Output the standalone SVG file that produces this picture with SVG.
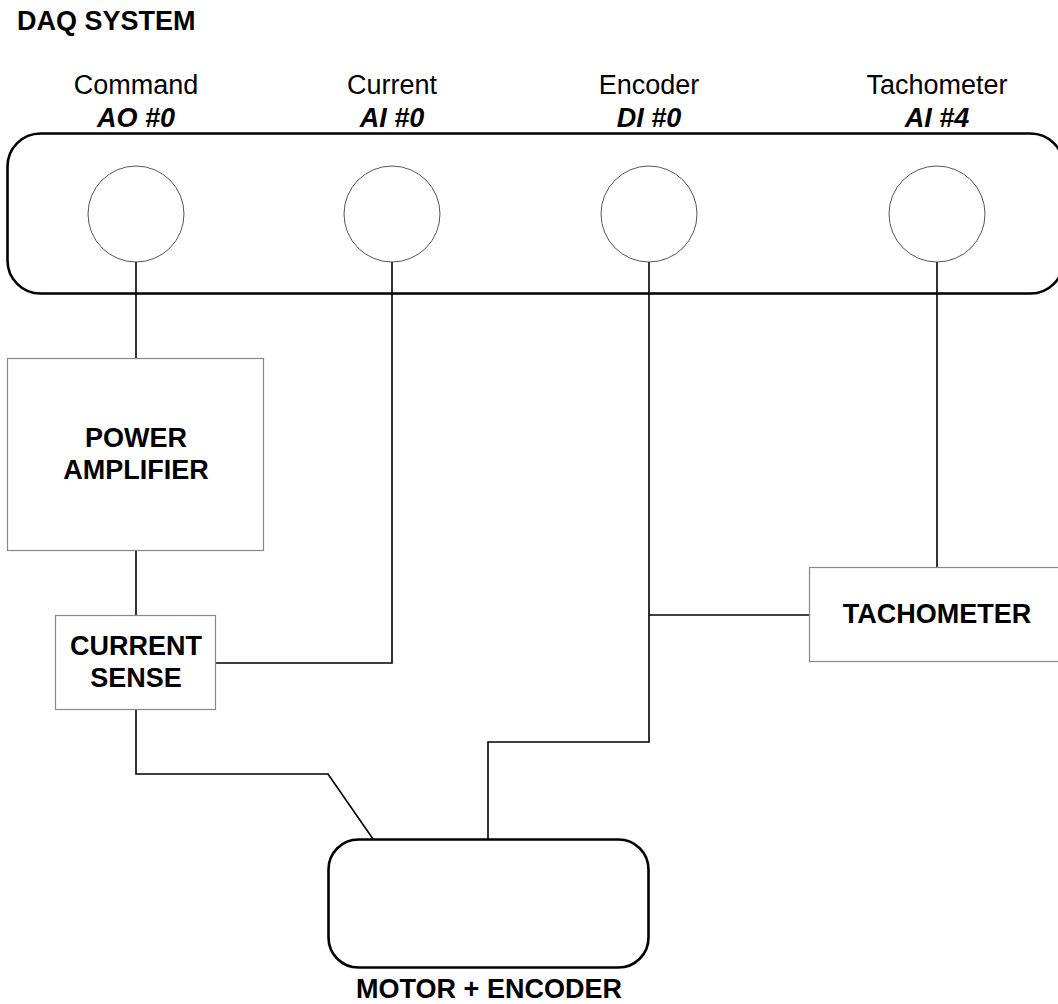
<svg xmlns="http://www.w3.org/2000/svg" width="1058" height="1004" viewBox="0 0 1058 1004">
<style>
text{font-family:"Liberation Sans",Arial,sans-serif;font-size:27px;fill:#000;text-anchor:middle}
.b{font-weight:bold}
.bi{font-weight:bold;font-style:italic}
.port{fill:#fff;stroke:#555;stroke-width:1}
.box{fill:#fff;stroke:#888;stroke-width:1.2}
.wire{fill:none;stroke:#000;stroke-width:1.6}
.heavy{fill:#fff;stroke:#000;stroke-width:2.6}
</style>
<rect width="1058" height="1004" fill="#fff"/>
<text class="b" x="17" y="30" style="text-anchor:start">DAQ SYSTEM</text>
<g id="daq">
<rect class="heavy" x="7.5" y="133.5" width="1056" height="160" rx="33" ry="33"/>
</g>
<g id="connectors">
<path class="wire" d="M136,262V358"/>
<path class="wire" d="M136,551V615"/>
<path class="wire" d="M392,262V663H216"/>
<path class="wire" d="M136,710V774H328L373,839"/>
<path class="wire" d="M649,262V742H488V839"/>
<path class="wire" d="M649,615H809"/>
<path class="wire" d="M937,262V567"/>
</g>
<g id="port-command">
<circle class="port" cx="136" cy="214" r="48"/>
<text x="136" y="94">Command</text>
<text class="bi" x="136" y="127">AO #0</text>
</g>
<g id="port-current">
<circle class="port" cx="392" cy="214" r="48"/>
<text x="392" y="94">Current</text>
<text class="bi" x="392" y="127">AI #0</text>
</g>
<g id="port-encoder">
<circle class="port" cx="649" cy="214" r="48"/>
<text x="649" y="94">Encoder</text>
<text class="bi" x="649" y="127">DI #0</text>
</g>
<g id="port-tachometer">
<circle class="port" cx="937" cy="214" r="48"/>
<text x="937" y="94">Tachometer</text>
<text class="bi" x="937" y="127">AI #4</text>
</g>
<g id="power-amplifier">
<rect class="box" x="7.5" y="358.5" width="256" height="192"/>
<text class="b" x="136" y="447">POWER</text>
<text class="b" x="136" y="479">AMPLIFIER</text>
</g>
<g id="current-sense">
<rect class="box" x="55.5" y="615.5" width="160" height="94"/>
<text class="b" x="136" y="655">CURRENT</text>
<text class="b" x="136" y="687">SENSE</text>
</g>
<g id="tachometer">
<rect class="box" x="809.5" y="567.5" width="260" height="94"/>
<text class="b" x="937" y="623">TACHOMETER</text>
</g>
<g id="motor-encoder">
<rect class="heavy" x="328.5" y="839.5" width="320" height="128" rx="30" ry="30"/>
<text class="b" x="489" y="998">MOTOR + ENCODER</text>
</g>
</svg>
